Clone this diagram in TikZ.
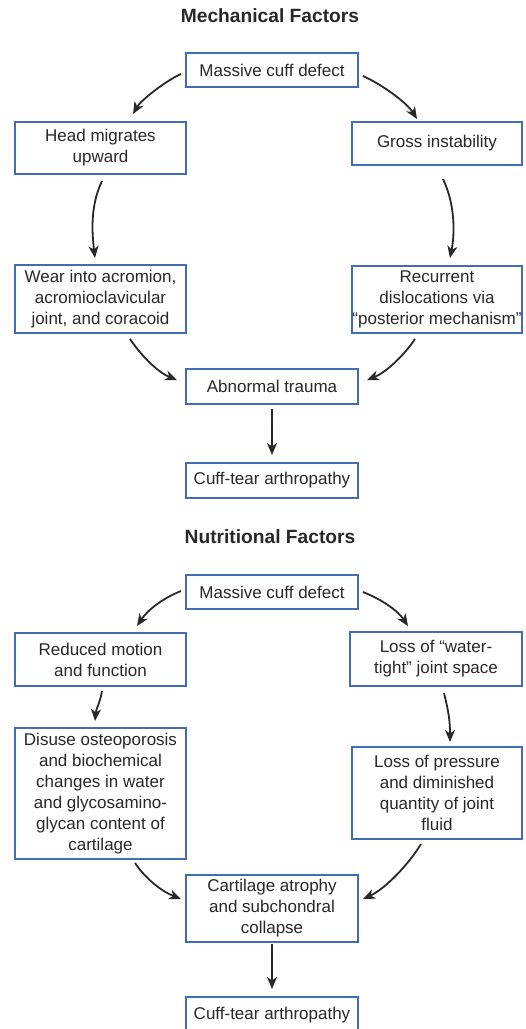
\documentclass[tikz,border=0pt]{standalone}
\usepackage{fontspec}
\setmainfont{Liberation Sans}
\usetikzlibrary{arrows.meta,calc}
\definecolor{boxblue}{RGB}{64,108,184}
\definecolor{txt}{RGB}{40,40,40}
\begin{document}
\begin{tikzpicture}[x=1pt,y=-1pt,
  box/.style={draw=boxblue,line width=2pt,fill=white,text=txt,align=center,inner sep=0pt,font=\fontsize{17}{21}\selectfont},
  ttl/.style={text=txt,inner sep=0pt,font=\bfseries\fontsize{19.2}{22}\selectfont},
  arr/.style={draw=txt,line width=1.8pt,-{Stealth[length=12pt,width=10pt,inset=3.5pt]}}]
\useasboundingbox (0,0) rectangle (526,1029);
\clip (0,0) rectangle (526,1029);
% Mechanical
\node[ttl] (t1) at (270,16) {Mechanical Factors};
\node[box,minimum width=172,minimum height=34] (m1) at (272,70) {Massive cuff defect};
\node[box,minimum width=171,minimum height=52] (head) at (100.5,148) {Head migrates\\upward};
\node[box,minimum width=170,minimum height=43] (gross) at (437,143.5) {Gross instability};
\node[box,minimum width=171,minimum height=68] (wear) at (100.5,299) {Wear into acromion,\\acromioclavicular\\joint, and coracoid};
\node[box,minimum width=170,minimum height=67] (rec) at (437,299.5) {Recurrent\\dislocations via\\“posterior mechanism”};
\node[box,minimum width=172,minimum height=35] (ab) at (272,386.5) {Abnormal trauma};
\node[box,minimum width=172,minimum height=35] (cuff1) at (272,480.5) {Cuff-tear arthropathy};
\draw[arr] ($(m1.west)+(-4,4)$) .. controls +(-14,6) and +(8,-14) .. ($(head.north)+(32.5,-7)$);
\draw[arr] ($(m1.east)+(4,6)$) .. controls +(20,9) and +(-10,-16) .. ($(gross.north)+(-20,-2)$);
\draw[arr] ($(head.south)+(1.5,6)$) .. controls +(-12,25) and +(-3,-25) .. ($(wear.north)+(-5.5,-6)$);
\draw[arr] ($(gross.south)+(6,13)$) .. controls +(12,25) and +(5,-25) .. ($(rec.north)+(13,-7)$);
\draw[arr] ($(wear.south)+(29.5,5)$) .. controls +(10,15) and +(-20,-8) .. ($(ab.west)+(-8,-6.5)$);
\draw[arr] ($(rec.south)+(-22,5)$) .. controls +(-10,15) and +(20,-8) .. ($(ab.east)+(8,-6.5)$);
\draw[arr] ($(ab.south)+(0,4)$) -- ($(cuff1.north)+(0,-7)$);
% Nutritional
\node[ttl] (t2) at (270,537) {Nutritional Factors};
\node[box,minimum width=172,minimum height=34] (n1) at (272,592) {Massive cuff defect};
\node[box,minimum width=171,minimum height=53] (red) at (100.5,659.5) {Reduced motion\\and function};
\node[box,minimum width=172,minimum height=54] (loss) at (436,659) {Loss of “water-\\tight” joint space};
\node[box,minimum width=171,minimum height=131] (dis) at (100.5,793.5) {Disuse osteoporosis\\and biochemical\\changes in water\\and glycosamino-\\glycan content of\\cartilage};
\node[box,minimum width=170,minimum height=92] (pres) at (437,793) {Loss of pressure\\and diminished\\quantity of joint\\fluid};
\node[box,minimum width=172,minimum height=67] (cart) at (272,908.5) {Cartilage atrophy\\and subchondral\\collapse};
\node[box,minimum width=172,minimum height=36] (cuff2) at (272,1015) {Cuff-tear arthropathy};
\draw[arr] ($(n1.west)+(-4,-1)$) .. controls +(-20,8) and +(10,-15) .. ($(red.north)+(36.5,-6)$);
\draw[arr] ($(n1.east)+(4,0)$) .. controls +(20,8) and +(-10,-15) .. ($(loss.north)+(-28,-5)$);
\draw[arr] ($(red.south)+(1.5,4)$) .. controls +(-2,12) and +(1,-12) .. ($(dis.north)+(-5.5,-6)$);
\draw[arr] ($(loss.south)+(8,6)$) .. controls +(5,20) and +(0,-20) .. ($(pres.north)+(13,-4)$);
\draw[arr] ($(dis.south)+(34.5,3)$) .. controls +(10,15) and +(-20,-8) .. ($(cart.west)+(-4,-9.5)$);
\draw[arr] ($(pres.south)+(-16,4)$) .. controls +(-12,20) and +(22,-10) .. ($(cart.east)+(4,-9.5)$);
\draw[arr] ($(cart.south)+(0,1)$) -- ($(cuff2.north)+(0,-7)$);
\end{tikzpicture}
\end{document}
